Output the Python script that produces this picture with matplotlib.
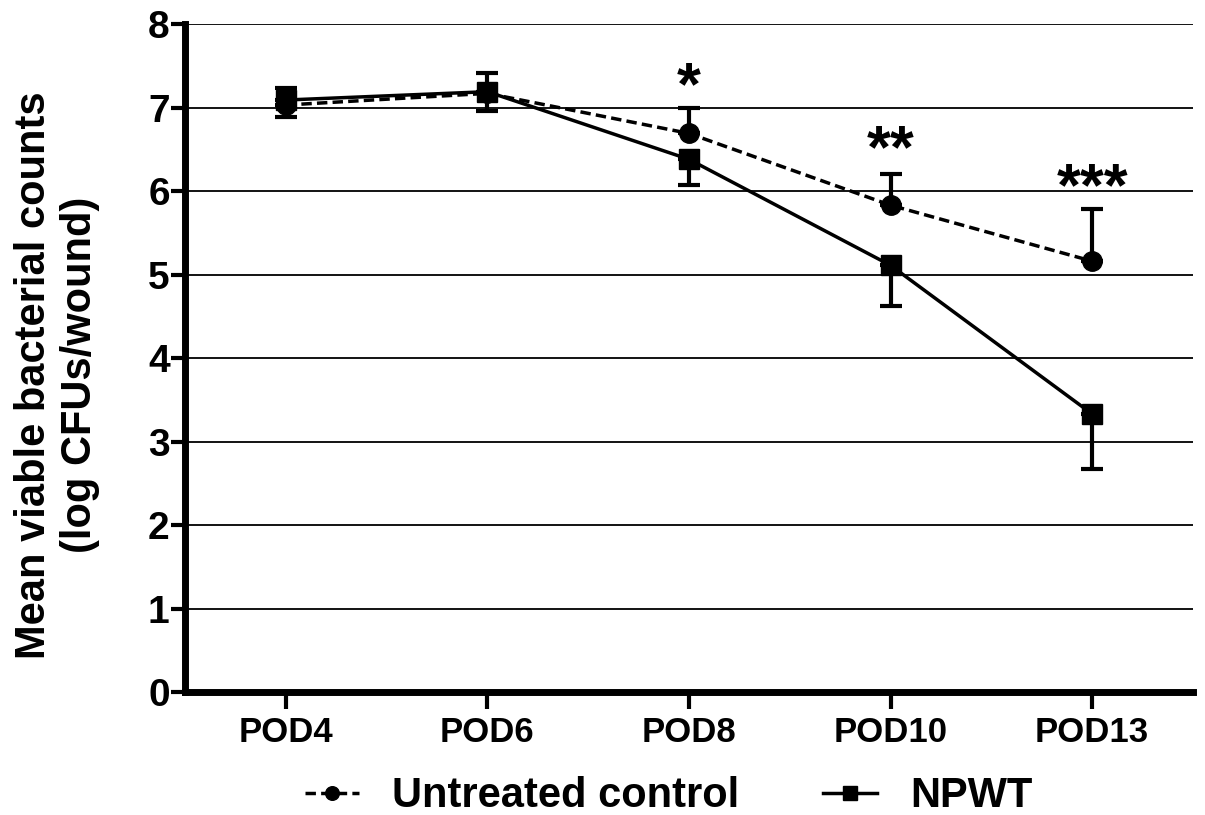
import matplotlib
matplotlib.use("Agg")
import matplotlib.pyplot as plt

plt.rcParams['font.family'] = ['Liberation Sans', 'DejaVu Sans']
plt.rcParams['font.weight'] = 'bold'

# Data
days = ["POD4", "POD6", "POD8", "POD10", "POD13"]
control_mean = [7.03, 7.17, 6.69, 5.83, 5.16]
control_err_up = [0.21, 0.24, 0.30, 0.38, 0.63]
npwt_mean = [7.09, 7.19, 6.38, 5.11, 3.33]
npwt_err_down = [0.20, 0.23, 0.31, 0.49, 0.66]

# significance marks above POD8, POD10, POD13
star_labels = ["*", "**", "***"]
star_pos = [2, 3, 4]
star_y = [7.23, 6.47, 6.02]


def main():
    fig = plt.figure(figsize=(12.05, 8.15), dpi=100)
    ax = fig.add_axes([0.1535, 0.1509, 0.8365, 0.8196])

    x = list(range(len(days)))
    zero = [0] * len(days)

    # Untreated control: dashed line, circles, upper error bars
    ax.errorbar(x, control_mean, yerr=[zero, control_err_up], color="black",
                linestyle="--", dashes=(3, 1.5), linewidth=2.5, marker="o",
                markersize=14, elinewidth=3, capsize=8, capthick=3,
                label="Untreated control", zorder=3)

    # NPWT: solid line, squares, lower error bars
    ax.errorbar(x, npwt_mean, yerr=[npwt_err_down, zero], color="black",
                linestyle="-", linewidth=2.5, marker="s", markersize=14,
                elinewidth=3, capsize=8, capthick=3, label="NPWT", zorder=4)

    for lab, xi, yi in zip(star_labels, star_pos, star_y):
        ax.text(xi, yi, lab, ha="center", va="center", fontsize=44,
                fontweight="bold")

    ax.set_xlim(-0.5, 4.5)
    ax.set_ylim(0, 8)
    ax.set_xticks(x)
    ax.set_xticklabels(days)
    ax.set_yticks(range(0, 9))

    ax.yaxis.grid(True, color="black", linewidth=1.3)
    ax.set_axisbelow(True)

    for side in ["top", "right"]:
        ax.spines[side].set_visible(False)
    for side in ["left", "bottom"]:
        ax.spines[side].set_linewidth(5)

    ax.tick_params(axis="y", labelsize=28, length=10, width=3, pad=1)
    ax.tick_params(axis="x", labelsize=25, length=12, width=3, pad=5)

    ax.set_ylabel("Mean viable bacterial counts\n(log CFUs/wound)",
                  fontsize=30, fontweight="bold", linespacing=1.2)
    ax.yaxis.set_label_coords(-0.084, 0.475)

    handles, labels = ax.get_legend_handles_labels()
    handles = [h[0] for h in handles]
    fig.legend(handles, labels, loc="center", bbox_to_anchor=(0.555, 0.023),
               ncol=2, frameon=False, fontsize=30, handlelength=1.3,
               handletextpad=0.8, columnspacing=2.0, markerscale=0.7)

    fig.savefig("out.png", dpi=100)


if __name__ == "__main__":
    main()
